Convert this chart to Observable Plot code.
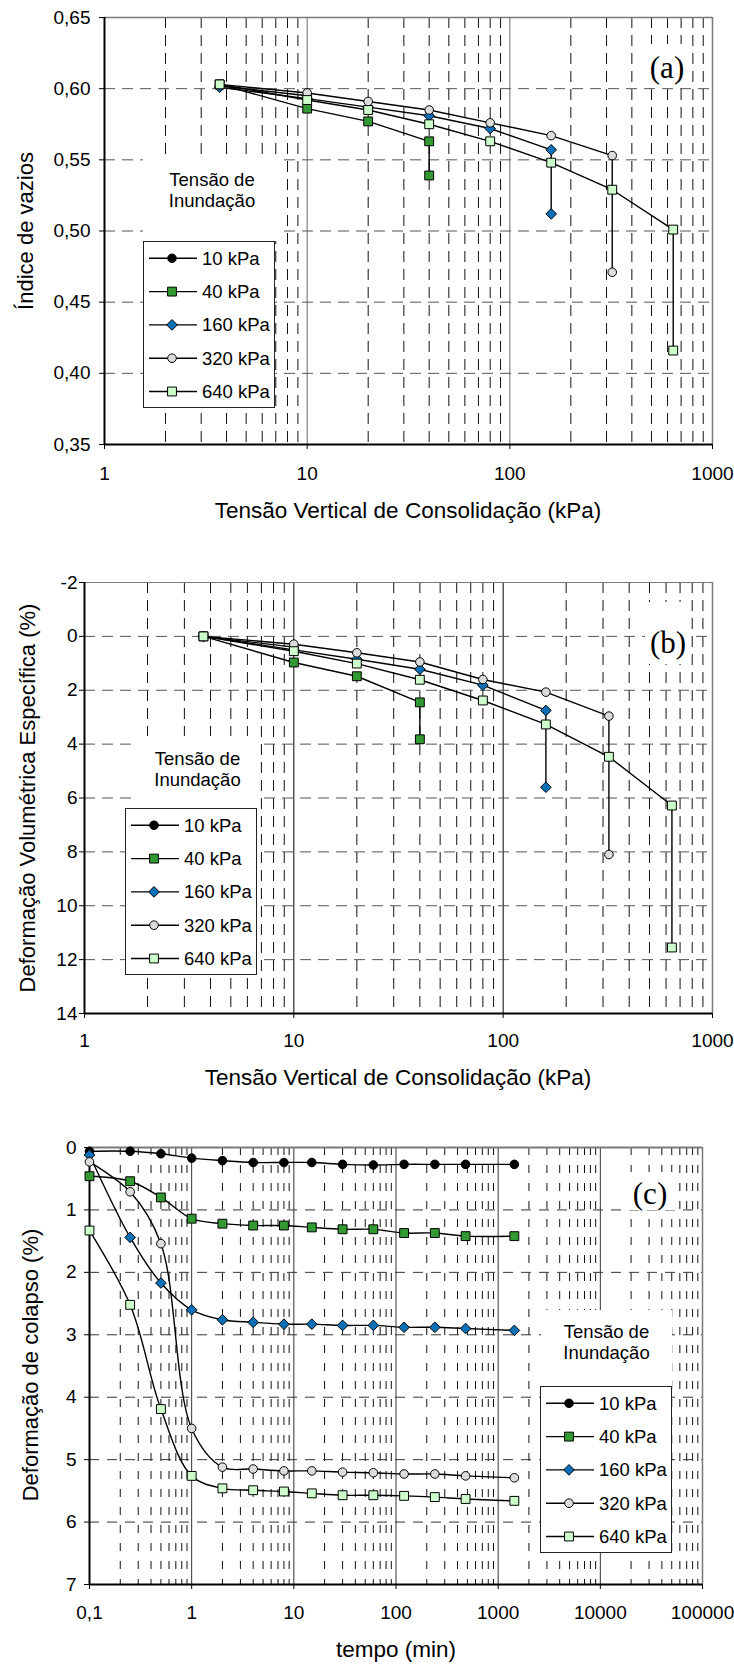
<!DOCTYPE html>
<html><head><meta charset="utf-8">
<script src="https://cdn.jsdelivr.net/npm/d3@7"></script>
<script src="https://cdn.jsdelivr.net/npm/@observablehq/plot@0.6"></script>
<style>
html,body{margin:0;padding:0;background:#fff;overflow:hidden;}
#root{position:relative;width:734px;height:1666px;overflow:hidden;font-family:"Liberation Sans",Arial,sans-serif;color:#000;}
.panel{position:absolute;left:0;}
.title{position:absolute;font-size:22.5px;line-height:1;white-space:nowrap;transform:translate(-50%,-50%);}
.ytitle{position:absolute;font-size:22px;line-height:1;white-space:nowrap;transform:translate(-50%,-50%) rotate(-90deg);}
.wbox{position:absolute;background:#fff;}
.tag{position:absolute;font-family:"Liberation Serif","Times New Roman",serif;font-size:31px;line-height:1;white-space:nowrap;transform:translate(-50%,-50%);}
.note{position:absolute;background:#fff;font-size:18.5px;text-align:center;line-height:21px;box-sizing:border-box;}
.legend{position:absolute;}
</style></head><body><div id="root"></div><script>
// ---------- series styling ----------
const seriesLabels = ["10 kPa", "40 kPa", "160 kPa", "320 kPa", "640 kPa"];
const seriesSymbols = ["circle", "square", "diamond2", "circle", "square"];
const seriesFills = ["#000000", "#339933", "#0a70b8", "#dcdcdc", "#ccffcc"];
const seriesR = [4.3, 5.0, 4.8, 4.3, 5.0];

// ---------- (a) Índice de vazios ----------
const aX10 = [3.7, 10, 10];
const aY10 = [0.602, 0.595, 0.593];
const aX40 = [3.7, 10, 20, 40, 40];
const aY40 = [0.603, 0.586, 0.577, 0.563, 0.539];
const aX160 = [3.7, 10, 20, 40, 80, 160, 160];
const aY160 = [0.601, 0.593, 0.587, 0.581, 0.572, 0.557, 0.512];
const aX320 = [3.7, 10, 20, 40, 80, 160, 320, 320];
const aY320 = [0.603, 0.597, 0.591, 0.585, 0.576, 0.567, 0.553, 0.471];
const aX640 = [3.7, 10, 20, 40, 80, 160, 320, 640, 640];
const aY640 = [0.603, 0.592, 0.585, 0.575, 0.563, 0.548, 0.529, 0.501, 0.416];

// ---------- (b) Deformação volumétrica específica (%) ----------
const bX10 = [3.7, 10, 10];
const bY10 = [0, 0.40, 0.55];
const bX40 = [3.7, 10, 20, 40, 40];
const bY40 = [0, 0.97, 1.48, 2.45, 3.82];
const bX160 = [3.7, 10, 20, 40, 80, 160, 160];
const bY160 = [0, 0.50, 0.85, 1.22, 1.81, 2.75, 5.60];
const bX320 = [3.7, 10, 20, 40, 80, 160, 320, 320];
const bY320 = [0, 0.29, 0.61, 0.95, 1.60, 2.07, 2.96, 8.10];
const bX640 = [3.7, 10, 20, 40, 80, 160, 320, 640, 640];
const bY640 = [0, 0.55, 1.01, 1.61, 2.38, 3.27, 4.47, 6.28, 11.55];

// ---------- (c) Deformação de colapso (%) vs tempo ----------
const tC = [0.1, 0.25, 0.5, 1, 2, 4, 8, 15, 30, 60, 120, 240, 480, 1440];
const c10 = [0.06, 0.06, 0.10, 0.17, 0.21, 0.24, 0.24, 0.24, 0.27, 0.28, 0.27, 0.27, 0.27, 0.27];
const c40 = [0.46, 0.54, 0.80, 1.14, 1.22, 1.25, 1.25, 1.28, 1.31, 1.31, 1.37, 1.37, 1.42, 1.42];
const c160 = [0.12, 1.44, 2.17, 2.60, 2.76, 2.80, 2.83, 2.83, 2.85, 2.85, 2.88, 2.88, 2.90, 2.93];
const c320 = [0.23, 0.71, 1.54, 4.50, 5.12, 5.15, 5.18, 5.18, 5.20, 5.21, 5.23, 5.23, 5.26, 5.29];
const c640 = [1.33, 2.52, 4.19, 5.26, 5.46, 5.49, 5.51, 5.54, 5.57, 5.57, 5.58, 5.60, 5.63, 5.66];

// ---------- ticks ----------
const xTicksAB = [1, 10, 100, 1000];
const yTicksA = [0.35, 0.40, 0.45, 0.50, 0.55, 0.60, 0.65];
const yTicksB = [-2, 0, 2, 4, 6, 8, 10, 12, 14];
const xTicksC = [0.1, 1, 10, 100, 1000, 10000, 100000];
const yTicksC = [0, 1, 2, 3, 4, 5, 6, 7];

const xTitleAB = "Tensão Vertical de Consolidação (kPa)";
const xTitleC = "tempo (min)";
const yTitleA = "Índice de vazios";
const yTitleB = "Deformação Volumétrica Específica (%)";
const yTitleC = "Deformação de colapso (%)";
const noteText = ["Tensão de", "Inundação"];

// ---------- helpers ----------
const root = document.getElementById("root");
function minorTicks(lo, hi) {
  const out = [];
  for (let d = lo; d < hi * 0.999; d *= 10)
    for (let k = 2; k <= 9; k++) out.push(+(k * d).toPrecision(6));
  return out;
}
const comma = s => String(s).replace(".", ",");

function panel(o) {
  const marks = [
    Plot.ruleX(minorTicks(o.xDomain[0], o.xDomain[1]), {stroke: "#111", strokeWidth: 1, strokeDasharray: o.vDash}),
    Plot.ruleX(o.major, {stroke: o.majorColor, strokeWidth: 1}),
    Plot.ruleY(o.hGrid, {stroke: o.hColor, strokeWidth: 1, strokeDasharray: o.hDash}),
    Plot.ruleY([o.yDomain[o.yReverse ? 0 : 1]], {stroke: "#7a7a7a", strokeWidth: o.topW}),
    Plot.ruleX([o.xDomain[1]], {stroke: "#7a7a7a", strokeWidth: 1.5}),
    Plot.ruleX([o.xDomain[0]], {stroke: "#000", strokeWidth: 2}),
    Plot.ruleY([o.yDomain[o.yReverse ? 1 : 0]], {stroke: "#000", strokeWidth: 2})
  ];
  o.series.forEach((s, i) => {
    const rows = s.x.map((x, j) => ({x, y: s.y[j]}));
    marks.push(Plot.line(rows, {x: "x", y: "y", stroke: "#000", strokeWidth: 1.4, curve: o.curve}));
    marks.push(Plot.dot(rows, {x: "x", y: "y", symbol: seriesSymbols[i], fill: seriesFills[i], stroke: "#000", strokeWidth: 1, r: seriesR[i]}));
  });
  marks.push(Plot.axisX({ticks: o.xTicks, tickFormat: o.xFmt, tickSize: 5, tickPadding: o.xPad, label: null}));
  marks.push(Plot.axisY({ticks: o.yTicks, tickFormat: o.yFmt, tickSize: 5, tickPadding: o.yPad, label: null}));
  const svg = Plot.plot({
    width: 734, height: o.h,
    marginTop: o.mt, marginBottom: o.mb, marginLeft: o.ml, marginRight: o.mr,
    x: {type: "log", domain: o.xDomain, label: null},
    y: {domain: o.yDomain, reverse: o.yReverse, label: null},
    style: {fontFamily: "'Liberation Sans', Arial, sans-serif", fontSize: "19px", background: "transparent", overflow: "visible"},
    marks
  });
  const wrap = document.createElement("div");
  wrap.className = "panel";
  wrap.style.top = o.top + "px";
  wrap.appendChild(svg);
  root.appendChild(wrap);
}

function addDiv(cls, text, css) {
  const d = document.createElement("div");
  d.className = cls;
  if (text != null) d.innerHTML = text;
  Object.assign(d.style, css);
  root.appendChild(d);
  return d;
}

function legend(left, top) {
  const w = 132, h = 167;
  const svg = d3.create("svg").attr("width", w).attr("height", h)
    .style("position", "absolute").style("left", left + "px").style("top", top + "px")
    .attr("font-family", "'Liberation Sans', Arial, sans-serif").attr("font-size", 18.5);
  svg.append("rect").attr("x", 0.5).attr("y", 0.5).attr("width", w - 1).attr("height", h - 1)
    .attr("fill", "#fff").attr("stroke", "#222");
  const types = {circle: d3.symbolCircle, square: d3.symbolSquare, diamond2: d3.symbolDiamond2};
  seriesLabels.forEach((lab, i) => {
    const cy = 17.3 + i * 33.3;
    svg.append("line").attr("x1", 6).attr("x2", 54).attr("y1", cy).attr("y2", cy).attr("stroke", "#000").attr("stroke-width", 1.4);
    svg.append("path").attr("d", d3.symbol(types[seriesSymbols[i]], Math.PI * seriesR[i] * seriesR[i])())
      .attr("transform", `translate(29,${cy})`).attr("fill", seriesFills[i]).attr("stroke", "#000");
    svg.append("text").attr("x", 59).attr("y", cy).attr("dy", "0.35em").text(lab);
  });
  root.appendChild(svg.node());
}

// ---------- panels ----------
panel({
  top: 0, h: 500, mt: 17, mb: 56, ml: 104, mr: 22,
  xDomain: [1, 1000], yDomain: [0.35, 0.65], yReverse: false,
  major: [10, 100], majorColor: "#6a6a6a", hGrid: [0.40, 0.45, 0.50, 0.55, 0.60], hColor: "#555",
  vDash: "11,7", hDash: "11,7", topW: 1.5, curve: "linear",
  xTicks: xTicksAB, xFmt: d => String(d), xPad: 17,
  yTicks: yTicksA, yFmt: d => comma(d3.format(".2f")(d)), yPad: 9,
  series: [{x: aX10, y: aY10}, {x: aX40, y: aY40}, {x: aX160, y: aY160}, {x: aX320, y: aY320}, {x: aX640, y: aY640}]
});
panel({
  top: 560, h: 500, mt: 22, mb: 47, ml: 84, mr: 22,
  xDomain: [1, 1000], yDomain: [-2, 14], yReverse: true,
  major: [10, 100], majorColor: "#000", hGrid: [0, 2, 4, 6, 8, 10, 12], hColor: "#555",
  vDash: "11,7", hDash: "11,7", topW: 1.2, curve: "linear",
  xTicks: xTicksAB, xFmt: d => String(d), xPad: 15,
  yTicks: yTicksB, yFmt: d => String(d), yPad: 2,
  series: [{x: bX10, y: bY10}, {x: bX40, y: bY40}, {x: bX160, y: bY160}, {x: bX320, y: bY320}, {x: bX640, y: bY640}]
});
panel({
  top: 1120, h: 520, mt: 27, mb: 56, ml: 89, mr: 32,
  xDomain: [0.1, 100000], yDomain: [0, 7], yReverse: true,
  major: [1, 10, 100, 1000, 10000], majorColor: "#333", hGrid: [1, 2, 3, 4, 5, 6], hColor: "#333",
  vDash: "8,10", hDash: "10,8", topW: 2, curve: "catmull-rom",
  xTicks: xTicksC, xFmt: d => comma(d), xPad: 16,
  yTicks: yTicksC, yFmt: d => String(d), yPad: 8,
  series: [{x: tC, y: c10}, {x: tC, y: c40}, {x: tC, y: c160}, {x: tC, y: c320}, {x: tC, y: c640}]
});

// ---------- titles ----------
addDiv("title", xTitleAB, {left: "408px", top: "511px"});
addDiv("title", xTitleAB, {left: "398px", top: "1078px"});
addDiv("title", xTitleC, {left: "396px", top: "1650px"});
addDiv("ytitle", yTitleA, {left: "26px", top: "231px"});
addDiv("ytitle", yTitleB, {left: "28px", top: "798px"});
addDiv("ytitle", yTitleC, {left: "31px", top: "1365px"});

// ---------- panel tags ----------
addDiv("wbox", null, {left: "646px", top: "44px", width: "44px", height: "40px"});
addDiv("tag", "(a)", {left: "667px", top: "67px"});
addDiv("wbox", null, {left: "645px", top: "602px", width: "46px", height: "62px"});
addDiv("tag", "(b)", {left: "668px", top: "642px"});
addDiv("wbox", null, {left: "625px", top: "1172px", width: "50px", height: "38px"});
addDiv("tag", "(c)", {left: "650px", top: "1193px"});

// ---------- "Tensão de Inundação" notes + legends ----------
const noteHTML = noteText.join("<br>");
addDiv("note", noteHTML, {left: "143px", top: "157px", width: "138px", height: "84px", paddingTop: "12px"});
legend(143, 241);
addDiv("note", noteHTML, {left: "135px", top: "736px", width: "125px", height: "72px", paddingTop: "12px"});
legend(125, 808);
addDiv("note", noteHTML, {left: "541px", top: "1310px", width: "131px", height: "76px", paddingTop: "11px"});
legend(540, 1386);
</script></body></html>
